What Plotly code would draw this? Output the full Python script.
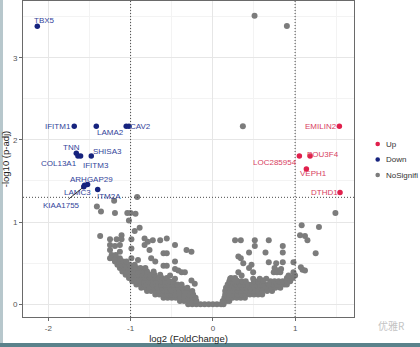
import math
import plotly.graph_objects as go

# ---------------- data ----------------
FC_CUT = 1.0          # |log2 FC| threshold
PADJ_CUT = 0.05       # adjusted p-value threshold

# significant genes (log2FC, -log10 padj)
down_genes = ["TBX5", "IFITM1", "LAMA2", "CAV2", "TNN", "COL13A1", "IFITM3",
              "SHISA3", "ARHGAP29", "LAMC3", "KIAA1755", "ITM2A", ""]
down_fc = [-2.134, -1.685, -1.417, -1.053, -1.660, -1.640, -1.608,
           -1.478, -1.523, -1.560, -1.569, -1.400, -1.020]
down_p = [3.382, 2.165, 2.165, 2.165, 1.837, 1.804, 1.804,
          1.804, 1.456, 1.448, 1.430, 1.395, 2.165]

up_genes = ["EMILIN2", "POU3F4", "LOC285954", "VEPH1", "DTHD1"]
up_fc = [1.538, 1.182, 1.052, 1.137, 1.546]
up_p = [2.165, 1.804, 1.804, 1.646, 1.359]

# non-significant genes, dense core of the volcano: (-log10 padj, [log2FC ...])
ns_rows = [
    (0.00, [-0.30, -0.25, -0.20, -0.15, -0.10, -0.05, 0.00, 0.05, 0.10, 0.13]),
    (0.04, [-0.40, -0.35, -0.30, -0.25, -0.20, 0.12, 0.17, 0.20]),
    (0.08, [-0.60, -0.55, -0.50, -0.45, -0.40, -0.35, -0.30, -0.25, -0.21,
            0.14, 0.19, 0.24, 0.29, 0.34, 0.39]),
    (0.12, [-0.70, -0.65, -0.60, -0.55, -0.50, -0.45, -0.40, -0.35, -0.30, -0.24,
            0.15, 0.20, 0.25, 0.30, 0.35, 0.40, 0.45, 0.50, 0.55, 0.60]),
    (0.16, [-0.80, -0.75, -0.70, -0.65, -0.60, -0.55, -0.50, -0.45, -0.40, -0.35, -0.30, -0.25,
            0.15, 0.20, 0.25, 0.30, 0.35, 0.40, 0.45, 0.50, 0.55, 0.60, 0.66, 0.72]),
    (0.20, [-0.87, -0.82, -0.77, -0.72, -0.67, -0.62, -0.57, -0.52, -0.47, -0.42, -0.37, -0.31,
            0.16, 0.21, 0.26, 0.31, 0.36, 0.41, 0.46, 0.51, 0.56, 0.61, 0.66, 0.71, 0.76, 0.82]),
    (0.24, [-0.93, -0.88, -0.83, -0.78, -0.73, -0.68, -0.63, -0.58, -0.53, -0.48, -0.43, -0.38,
            0.18, 0.23, 0.28, 0.33, 0.38, 0.43, 0.48, 0.53, 0.58, 0.63, 0.68, 0.73, 0.78, 0.83,
            0.87, 0.90]),
    (0.28, [-0.98, -0.93, -0.88, -0.83, -0.78, -0.73, -0.68, -0.63, -0.58, -0.53, -0.48,
            0.20, 0.25, 0.30, 0.35, 0.40, 0.50, 0.55, 0.60, 0.70, 0.75, 0.80, 0.85, 0.90, 0.94]),
    (0.32, [-1.02, -0.97, -0.92, -0.87, -0.82, -0.77, -0.72, -0.67, -0.62, -0.56,
            0.22, 0.27, 0.90, 0.94, 0.97]),
    (0.36, [-1.06, -1.01, -0.96, -0.91, -0.86, -0.81, -0.76, -0.71, -0.64]),
    (0.40, [-1.10, -1.05, -1.00, -0.95, -0.90, -0.85, -0.80, -0.72]),
    (0.44, [-1.13, -1.08, -1.03, -0.98, -0.93, -0.88, -0.82]),
    (0.48, [-1.16, -1.11, -1.06, -1.01, -0.95]),
    (0.52, [-1.19, -1.14, -1.09, -1.05]),
    (0.56, [-1.21, -1.17, -1.13]),
    (0.60, [-1.23, -1.18]),
]

# non-significant genes, scattered points
ns_fc = [-1.41, -1.36, -1.20, -1.19, -1.04, -1.00, -0.94, -1.02, -0.92, -0.95, -0.89,
         -1.37, -1.25, -1.17, -1.11, -1.11, -0.99, -0.83, -0.79, -0.73, -0.64, -0.56,
         -1.25, -1.19, -1.13, -1.25, -1.13, -0.99, -0.83, -0.77, -0.60, -0.56, -0.46,
         -0.32, -0.26, -1.25, -1.19, -0.99, -0.91, -0.60, -0.56, -0.75, -0.70, -0.46,
         -0.38, -0.34, -0.46, -0.42, -0.52, -0.46, -0.26, -0.22,
         0.27, 0.34, 0.51, 0.51, 0.68, 0.85, 0.31, 0.34, 0.44, 0.64, 0.85, 0.37, 0.47,
         0.44, 0.68, 0.77, 0.85, 0.98, 1.07, 1.09, 1.12, 0.31, 0.35, 0.49, 0.75, 0.79,
         0.83, 0.74, 0.78, 0.82, 0.98, 1.00, 0.21, 0.25, 0.29, 0.49, 0.57, 0.65, 0.61,
         0.92, 0.96, 1.49, 1.08, 1.29, 1.06, 1.12, 1.15, 1.25,
         0.507, 0.900, 0.365]
ns_p = [1.19, 1.13, 1.26, 1.11, 1.11, 1.11, 1.10, 1.02, 1.305, 0.89, 0.93,
        0.83, 0.79, 0.79, 0.84, 0.79, 0.79, 0.80, 0.76, 0.78, 0.78, 0.80,
        0.72, 0.71, 0.72, 0.66, 0.64, 0.68, 0.72, 0.66, 0.62, 0.62, 0.72,
        0.66, 0.64, 0.56, 0.54, 0.56, 0.54, 0.47, 0.47, 0.56, 0.52, 0.52,
        0.39, 0.39, 0.43, 0.41, 0.35, 0.31, 0.29, 0.25,
        0.78, 0.78, 0.78, 0.71, 0.78, 0.71, 0.58, 0.56, 0.63, 0.63, 0.63, 0.50, 0.48,
        0.44, 0.51, 0.50, 0.51, 0.51, 0.45, 0.42, 0.41, 0.39, 0.35, 0.39, 0.44, 0.41,
        0.43, 0.39, 0.39, 0.39, 0.39, 0.35, 0.31, 0.31, 0.29, 0.31, 0.31, 0.31, 0.29,
        0.35, 0.33, 1.11, 0.96, 0.94, 0.84, 0.83, 0.78, 0.62,
        3.51, 3.385, 2.165]

x_ticks = [-2, -1, 0, 1]
y_ticks = [0, 1, 2, 3]

# ---------------- styling ----------------
FONT = "Liberation Sans, Arial, sans-serif"
COL_UP = "#e0204c"
COL_DOWN = "#16237e"
COL_NS = "#7c7c7c"
LAB_UP = "#d8405f"
LAB_DOWN = "#33449a"

# label offsets in pixels (dx, dy) relative to the gene's point
label_shift = {
    "TBX5": (7, 6), "IFITM1": (-16, 0), "LAMA2": (14, -6), "CAV2": (14, 0),
    "TNN": (-5, 6), "COL13A1": (-19, -7), "IFITM3": (15, -9), "SHISA3": (16, 5),
    "ARHGAP29": (4, 5), "LAMC3": (-7, -7), "ITM2A": (11, -7),
    "EMILIN2": (-18, 0), "POU3F4": (13, 2), "LOC285954": (-24, -6),
    "VEPH1": (7, -5), "DTHD1": (-16, 0),
}
repel_label = {"KIAA1755": (-1.845, 1.205)}

cloud_fc = [x for _, xs in ns_rows for x in xs]
cloud_p = [y for y, xs in ns_rows for _ in xs]
all_ns_fc = cloud_fc + ns_fc
all_ns_p = cloud_p + ns_p

fig = go.Figure()
fig.add_trace(go.Scatter(x=all_ns_fc, y=all_ns_p, mode="markers", name="NoSignificant",
                         marker=dict(color=COL_NS, size=6, line=dict(width=0)),
                         showlegend=False, hoverinfo="skip"))
fig.add_trace(go.Scatter(x=up_fc, y=up_p, mode="markers", name="Up",
                         marker=dict(color=COL_UP, size=5.5, line=dict(width=0)),
                         showlegend=False))
fig.add_trace(go.Scatter(x=down_fc, y=down_p, mode="markers", name="Down",
                         marker=dict(color=COL_DOWN, size=5.5, line=dict(width=0)),
                         showlegend=False))

ann = []
for names, xs, ys, col in ((down_genes, down_fc, down_p, LAB_DOWN),
                           (up_genes, up_fc, up_p, LAB_UP)):
    for g, x, y in zip(names, xs, ys):
        if g in label_shift:
            dx, dy = label_shift[g]
            ann.append(dict(x=x, y=y, text=g, showarrow=False, xshift=dx, yshift=dy,
                            font=dict(family=FONT, size=8, color=col)))
        elif g in repel_label:
            lx, ly = repel_label[g]
            ann.append(dict(x=x, y=y, ax=lx, ay=ly, axref="x", ayref="y", text=g,
                            showarrow=True, arrowhead=0, arrowwidth=0.9,
                            arrowcolor="#222222", standoff=2,
                            font=dict(family=FONT, size=8, color=col)))

# threshold lines
p_line = -math.log10(PADJ_CUT)
dotted = dict(color="#4a4a4a", width=1, dash="1px,2px")
shapes = [
    dict(type="line", xref="x", yref="paper", x0=-FC_CUT, x1=-FC_CUT, y0=0, y1=1, line=dotted),
    dict(type="line", xref="x", yref="paper", x0=FC_CUT, x1=FC_CUT, y0=0, y1=1, line=dotted),
    dict(type="line", xref="paper", yref="y", x0=0, x1=1, y0=p_line, y1=p_line, line=dotted),
]

# page frame strips
W, H = 420, 347
shapes += [
    dict(type="rect", xref="paper", yref="paper", x0=-23 / 331, x1=-20 / 331,
         y0=-30 / 316, y1=1 + 1 / 316, fillcolor="#b7c7cc", line=dict(width=0), layer="below"),
    dict(type="rect", xref="paper", yref="paper", x0=-23 / 331, x1=1 + 66 / 331,
         y0=-30 / 316, y1=-26 / 316, fillcolor="#5b828b", line=dict(width=0), layer="below"),
]

# legend drawn as dots + labels in the right margin
legend_items = [("Up", COL_UP), ("Down", COL_DOWN), ("NoSignifi", COL_NS)]
for i, (lab, col) in enumerate(legend_items):
    yy = 1 - (144 - 1 + i * 15.5) / 316
    xx = (377.7 - 23) / 331
    shapes.append(dict(type="circle", xref="paper", yref="paper", xsizemode="pixel",
                       ysizemode="pixel", xanchor=xx, yanchor=yy, x0=-2.3, x1=2.3,
                       y0=-2.3, y1=2.3, fillcolor=col, line=dict(width=0)))
    ann.append(dict(xref="paper", yref="paper", x=(384 - 23) / 331, y=yy, text=lab,
                    showarrow=False, xanchor="left", yanchor="middle",
                    font=dict(family=FONT, size=8, color="#333333")))

# watermark
ann.append(dict(xref="paper", yref="paper", x=(376 - 23) / 331, y=-(325 - 317) / 316,
                text="优雅R", showarrow=False, xanchor="left", yanchor="middle",
                font=dict(family="Noto Sans CJK SC", size=10, color="#c4c4c4")))

axis_common = dict(showline=True, mirror=True, linecolor="#6a6a6a", linewidth=0.9,
                   ticks="outside", ticklen=3, tickcolor="#6a6a6a", tickwidth=0.8,
                   gridcolor="#e6e6e6", gridwidth=0.8, zeroline=False,
                   tickfont=dict(family=FONT, size=8, color="#555555"))

fig.update_layout(
    width=W, height=H,
    margin=dict(l=23, r=66, t=1, b=30, autoexpand=False),
    paper_bgcolor="white", plot_bgcolor="white",
    showlegend=False,
    annotations=ann, shapes=shapes,
    xaxis=dict(range=[-2.308, 1.716], tickmode="array", tickvals=x_ticks,
               ticktext=[str(v) if v >= 0 else "-" + str(-v) for v in x_ticks],
               minor=dict(dtick=0.5, tick0=0, showgrid=True, gridcolor="#f3f3f3",
                          gridwidth=0.6, ticks=""),
               title=dict(text="log2 (FoldChange)", standoff=0,
                          font=dict(family=FONT, size=9.5, color="#222222")),
               **axis_common),
    yaxis=dict(range=[-0.155, 3.69], tickmode="array", tickvals=y_ticks,
               minor=dict(dtick=0.5, tick0=0, showgrid=True, gridcolor="#f3f3f3",
                          gridwidth=0.6, ticks=""),
               title=dict(text="-log10 (p-adj)", standoff=2,
                          font=dict(family=FONT, size=9.5, color="#222222")),
               **axis_common),
)

fig.write_html("out.html")
